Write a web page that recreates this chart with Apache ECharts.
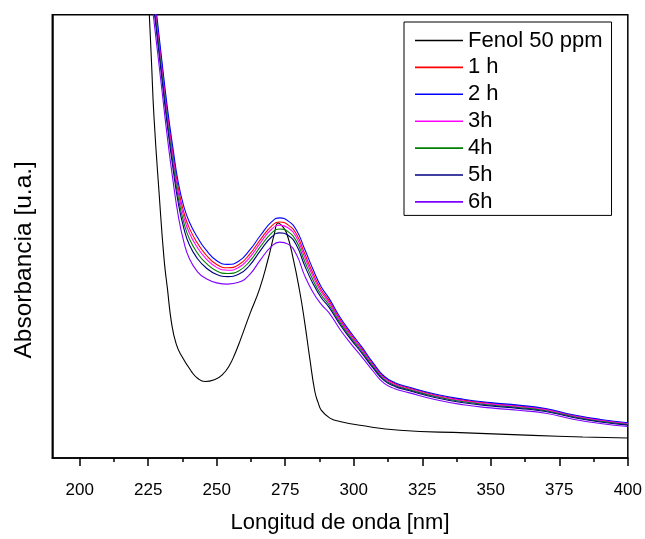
<!DOCTYPE html>
<html><head><meta charset="utf-8">
<script src="https://cdn.jsdelivr.net/npm/echarts@6/dist/echarts.min.js"></script>
<style>html,body{margin:0;padding:0;background:#fff}#c{width:645px;height:539px}</style>
</head><body><div id="c"></div>
<script>
const xTicks = [200,225,250,275,300,325,350,375,400];
const xMinorTicks = [212.5,237.5,262.5,287.5,312.5,337.5,362.5,387.5];
const seriesNames = ['Fenol 50 ppm','1 h','2 h','3h','4h','5h','6h'];
const seriesColors = ['#000000','#ff0000','#0000ff','#ff00ff','#008000','#000080','#8000ff'];

const fenolX = [224.8,225.4,226.2,227.1,229.0,230.8,232.0,233.5,235.2,237.2,240.8,243.0,245.7,249.5,252.0,254.5,256.8,258.7,262.1,265.7,268.8,271.0,272.4,274.0,275.5,277.9,280.3,282.0,284.0,285.8,287.0,288.2,291.3,294.9,302.2,316.8,341.1,365.3,383.6,400];
const fenolY = [4.30,4.00,3.57,3.08,2.38,1.79,1.53,1.22,1.03,0.92,0.78,0.72,0.69,0.71,0.75,0.83,0.95,1.07,1.30,1.53,1.80,2.02,2.12,2.09,2.03,1.80,1.50,1.24,0.89,0.60,0.50,0.43,0.36,0.33,0.295,0.25,0.227,0.204,0.19,0.18];

const runX = [226,228,230,232,234,236,238,240,243,246,250,254,258,262,266,270,273,276,279,282,285,288,291,295,299,303,307,311,315,320,330,340,350,360,370,380,390,400];
const abs1h = [4.404,3.974,3.536,3.114,2.751,2.429,2.216,2.074,1.937,1.836,1.746,1.717,1.743,1.838,1.973,2.093,2.130,2.104,2.023,1.849,1.674,1.523,1.418,1.251,1.113,0.985,0.847,0.729,0.671,0.632,0.567,0.522,0.492,0.469,0.440,0.383,0.342,0.312];
const abs2h = [4.45,4.02,3.58,3.16,2.80,2.48,2.27,2.13,1.99,1.88,1.78,1.747,1.775,1.875,2.01,2.13,2.167,2.14,2.06,1.89,1.71,1.55,1.44,1.27,1.13,1.00,0.86,0.74,0.68,0.64,0.575,0.53,0.50,0.477,0.447,0.39,0.348,0.318];
const abs3h = [4.369,3.939,3.502,3.079,2.713,2.39,2.174,2.031,1.897,1.802,1.72,1.694,1.718,1.809,1.944,2.064,2.101,2.077,1.994,1.818,1.647,1.502,1.401,1.237,1.10,0.973,0.837,0.720,0.663,0.625,0.560,0.515,0.486,0.463,0.434,0.378,0.337,0.308];
const abs4h = [4.326,3.896,3.460,3.036,2.667,2.342,2.123,1.978,1.847,1.760,1.688,1.665,1.688,1.774,1.909,2.029,2.066,2.043,1.959,1.780,1.613,1.476,1.380,1.219,1.084,0.959,0.825,0.710,0.655,0.617,0.552,0.507,0.478,0.456,0.427,0.372,0.331,0.302];
const abs5h = [4.283,3.853,3.419,2.993,2.620,2.294,2.072,1.925,1.798,1.719,1.656,1.637,1.657,1.739,1.874,1.994,2.031,2.010,1.924,1.741,1.580,1.451,1.359,1.202,1.068,0.944,0.813,0.700,0.646,0.609,0.544,0.499,0.470,0.448,0.420,0.365,0.325,0.297];
const abs6h = [4.18,3.75,3.32,2.89,2.51,2.18,1.95,1.80,1.68,1.62,1.58,1.569,1.585,1.655,1.79,1.91,1.948,1.93,1.84,1.65,1.50,1.39,1.31,1.16,1.03,0.91,0.785,0.675,0.625,0.59,0.525,0.48,0.452,0.431,0.404,0.35,0.311,0.284];

const FONT = '"Liberation Sans", Arial, sans-serif';
const pair = (xs, ys) => xs.map((x, i) => [x, ys[i]]);
const allData = [pair(fenolX, fenolY), pair(runX, abs1h), pair(runX, abs2h), pair(runX, abs3h), pair(runX, abs4h), pair(runX, abs5h), pair(runX, abs6h)];

const chart = echarts.init(document.getElementById('c'), null, {renderer: 'canvas'});
chart.setOption({
  animation: false,
  backgroundColor: '#fff',
  grid: {left: 52.3, right: 16.7, top: 14.7, bottom: 67, show: true, borderColor: '#000', borderWidth: 1.5, backgroundColor: 'transparent'},
  legend: {
    orient: 'vertical', left: 404, top: 22, padding: [7.5, 9, 2.5, 11],
    icon: 'rect', itemWidth: 48, itemHeight: 1.6, itemGap: 4.9,
    backgroundColor: '#fff', borderColor: '#000', borderWidth: 1,
    textStyle: {fontSize: 22, color: '#000', fontFamily: FONT, lineHeight: 21},
    data: seriesNames
  },
  xAxis: [{
    type: 'value', min: 190, max: 400, position: 'bottom',
    axisLine: {show: true, lineStyle: {color: '#000', width: 1.5}},
    axisTick: {show: true, inside: false, length: 8, lineStyle: {color: '#000', width: 1.5}, customValues: xTicks},
    axisLabel: {customValues: xTicks, fontSize: 17, color: '#000', fontFamily: FONT, margin: 24},
    splitLine: {show: false},
    name: 'Longitud de onda [nm]', nameLocation: 'middle', nameGap: 54,
    nameTextStyle: {fontSize: 22, color: '#000', fontFamily: FONT}
  }, {
    type: 'value', min: 190, max: 400, position: 'bottom',
    axisLine: {show: false},
    axisTick: {show: true, inside: false, length: 4, lineStyle: {color: '#000', width: 1.5}, customValues: xMinorTicks},
    axisLabel: {show: false},
    splitLine: {show: false}
  }],
  yAxis: {
    type: 'value', min: 0, max: 4,
    axisLine: {show: true, lineStyle: {color: '#000', width: 1.5}},
    axisTick: {show: false}, axisLabel: {show: false}, splitLine: {show: false},
    name: 'Absorbancia [u.a.]', nameLocation: 'middle', nameGap: 16, nameRotate: 90,
    nameTextStyle: {fontSize: 24.5, color: '#000', fontFamily: FONT, padding: [0, 47, 0, 0]}
  },
  series: seriesNames.map((name, i) => ({
    name: name, type: 'line', xAxisIndex: 0, data: allData[i],
    showSymbol: false, symbol: 'none', smooth: 0.5, clip: true,
    lineStyle: {color: seriesColors[i], width: 1.1}, itemStyle: {color: seriesColors[i]}
  }))
});
</script></body></html>
